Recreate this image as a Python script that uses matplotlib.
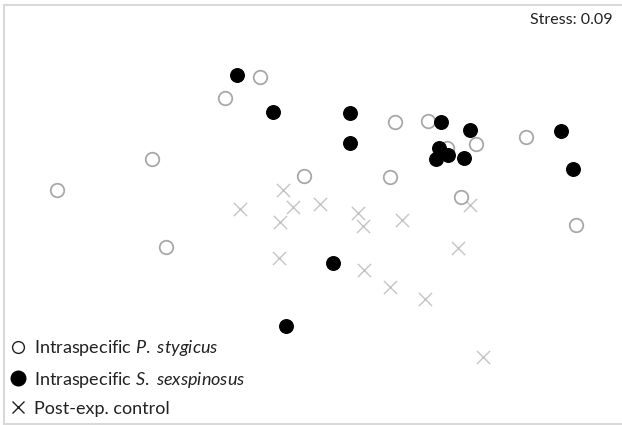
import matplotlib
matplotlib.use("Agg")
import matplotlib.pyplot as plt
from matplotlib.lines import Line2D

plt.rcParams['font.family'] = ['Lato', 'DejaVu Sans']
plt.rcParams['mathtext.fontset'] = 'custom'
plt.rcParams['mathtext.rm'] = 'Lato'
plt.rcParams['mathtext.it'] = 'Lato:italic'

# NMDS scores (arbitrary units)
stygicus_x = [-2.53, -1.58, -1.44, -0.85, -0.50, -0.06, 0.85, 1.18, 0.80, 1.37, 1.66, 2.16, 1.51, 2.66]
stygicus_y = [0.10, 0.41, -0.47, 1.02, 1.23, 0.24, 0.78, 0.79, 0.23, 0.52, 0.56, 0.63, 0.03, -0.25]

sexspinosus_x = [-0.73, -0.37, 0.40, 0.40, 1.31, 1.60, 1.29, 1.38, 1.26, 1.54, 2.51, 2.63, 0.23, -0.24]
sexspinosus_y = [1.25, 0.88, 0.87, 0.57, 0.78, 0.70, 0.52, 0.45, 0.41, 0.42, 0.69, 0.31, -0.63, -1.26]

control_x = [-0.27, -0.70, -0.17, -0.30, -0.31, 0.10, 0.48, 0.53, 0.92, 1.60, 1.48, 0.54, 0.80, 1.15, 1.73]
control_y = [0.10, -0.09, -0.07, -0.22, -0.58, -0.04, -0.13, -0.26, -0.20, -0.05, -0.48, -0.70, -0.87, -0.99, -1.57]

labels = [r'Intraspecific $\it{P.}$ $\it{stygicus}$',
          r'Intraspecific $\it{S.}$ $\it{sexspinosus}$',
          'Post-exp. control']
stress = 0.09

fig = plt.figure(figsize=(6.22, 4.25), dpi=100)
ax = fig.add_axes([4 / 622, 1 / 425, 618 / 622, 419 / 425])

ax.scatter(control_x, control_y, marker='x', s=90, color='#c4c4c4', linewidths=1.0, zorder=2)
ax.scatter(stygicus_x, stygicus_y, marker='o', s=95, facecolors='white', edgecolors='#a8a8a8', linewidths=1.3, zorder=3)
ax.scatter(sexspinosus_x, sexspinosus_y, marker='o', s=95, color='black', zorder=4)

ax.set_xlim(-3.06, 3.12)
ax.set_ylim(-2.24, 1.95)
ax.set_xticks([])
ax.set_yticks([])
for s in ax.spines.values():
    s.set_color('#d9d9d9')
    s.set_linewidth(1.5)
ax.spines['right'].set_visible(False)

ax.text(0.985, 0.98, f'Stress: {stress:.2f}', transform=ax.transAxes,
        ha='right', va='top', fontsize=11.5, color='#222222')

handles = [
    Line2D([], [], ls='none', marker='o', ms=8.5, mfc='white', mec='#222222', mew=1.0),
    Line2D([], [], ls='none', marker='o', ms=10.5, mfc='black', mec='black'),
    Line2D([], [], ls='none', marker='x', ms=9, color='#222222', mew=1.0),
]
ax.legend(handles, labels, loc='lower left', frameon=False, fontsize=13,
          handlelength=0.8, handletextpad=0.45, labelspacing=0.62,
          borderaxespad=0.0, labelcolor='#222222')

fig.savefig('out.png', dpi=100)
